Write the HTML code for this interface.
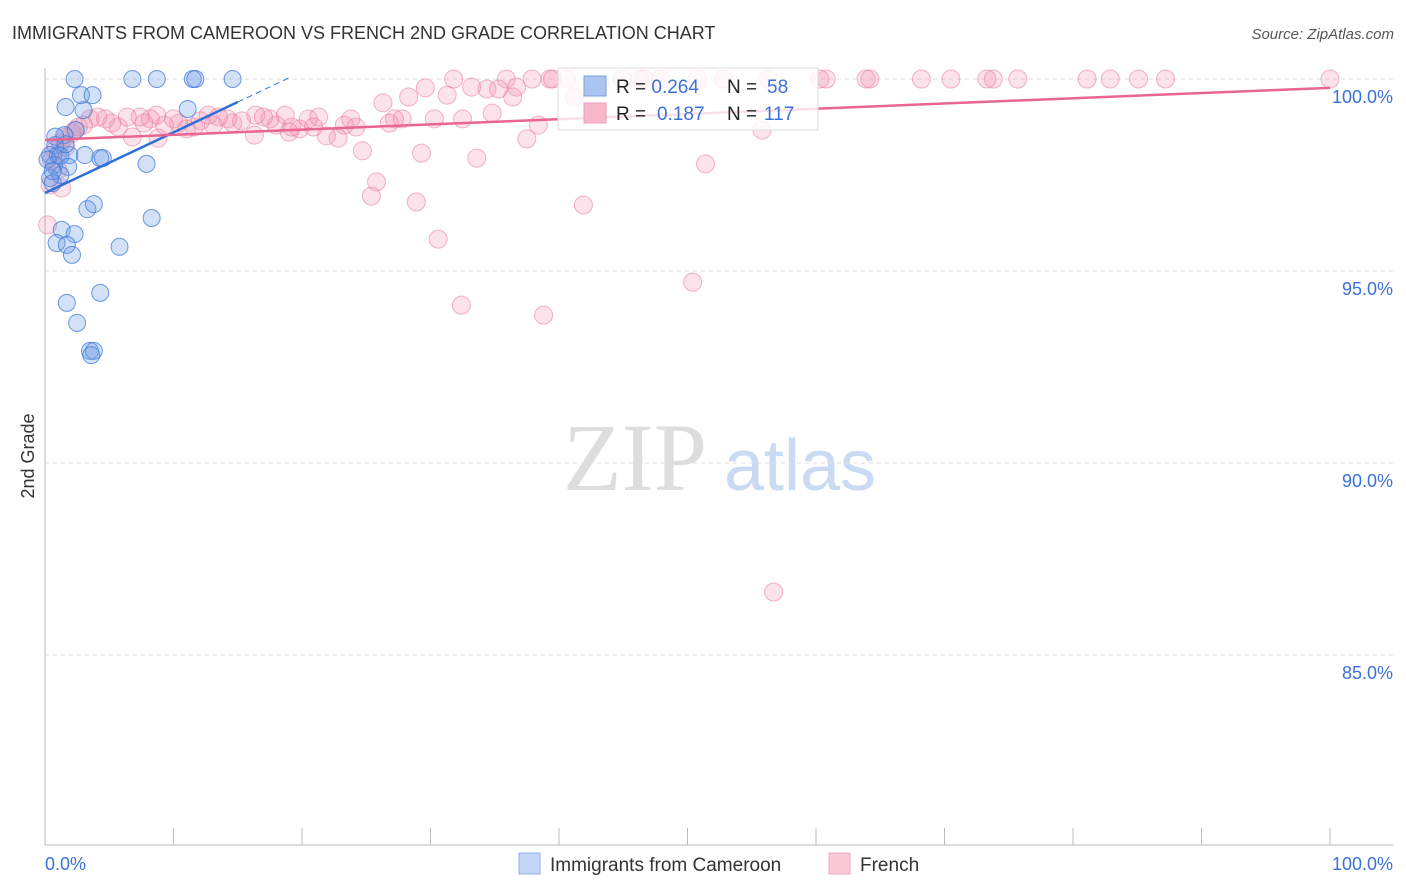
<!DOCTYPE html>
<html><head><meta charset="utf-8"><style>
body{margin:0;background:#fff;font-family:"Liberation Sans",sans-serif;}
svg{display:block}
</style></head><body>
<svg id="chart" width="1406" height="892">
<text x="12" y="39" font-size="18" fill="#333">IMMIGRANTS FROM CAMEROON VS FRENCH 2ND GRADE CORRELATION CHART</text>
<text x="1394" y="39" font-size="15" fill="#555" font-style="italic" text-anchor="end">Source: ZipAtlas.com</text>
<text x="34" y="456" font-size="18" fill="#333" text-anchor="middle" transform="rotate(-90 34 456)">2nd Grade</text>
<g><text x="635" y="490" font-size="96" fill="#ddd" font-family="Liberation Serif,serif" text-anchor="middle">ZIP</text><text x="800" y="490" font-size="72" fill="#c9daf2" text-anchor="middle">atlas</text></g>
<g id="grid"></g><g id="axes"></g><g id="pts"></g><g id="lines"></g>
<g>
<rect x="558" y="68" width="260" height="62" fill="#fff" fill-opacity="0.8" stroke="#ddd"/>
<rect x="584" y="76" width="22" height="20" fill="#aac4f0" stroke="#7aa0e0"/>
<rect x="584" y="103" width="22" height="20" fill="#f7b8cb" stroke="#eea0b8"/>
<text x="616" y="93" font-size="19" fill="#222">R = <tspan fill="#3a72d8">0.264</tspan><tspan x="727">N = </tspan><tspan x="767" fill="#3a72d8">58</tspan></text>
<text x="616" y="120" font-size="19" fill="#222">R = <tspan x="657" fill="#3a72d8">0.187</tspan><tspan x="727">N = </tspan><tspan x="764" fill="#3a72d8">117</tspan></text>
</g>
<g>
<rect x="519" y="853" width="21" height="21" fill="#c3d6f5" stroke="#8fb0e6"/>
<text x="550" y="871" font-size="19" fill="#333">Immigrants from Cameroon</text>
<rect x="829" y="853" width="21" height="21" fill="#f9cad8" stroke="#f0a8bf"/>
<text x="860" y="871" font-size="19" fill="#333">French</text>
</g>
</svg>
<script>
const yTicks=[100,95,90,85];
const yTickLabels=["100.0%","95.0%","90.0%","85.0%"];
const xTickLabels=["0.0%","100.0%"];
const blueX=[2.3,6.8,8.7,11.5,11.7,14.6,2.8,3.7,1.6,3.0,11.1,2.4,1.5,0.8,0.4,1.0,1.9,3.1,4.3,4.5,0.7,1.8,7.9,1.2,0.4,0.6,3.3,3.8,8.3,1.3,2.3,0.9,1.7,2.1,5.8,1.7,4.3,2.5,3.5,3.8,3.6,0.2,0.6,1.2,1.6,0.8];
const blueY=[100,100,100,100,100,100,99.58,99.58,99.27,99.19,99.22,98.67,98.54,98.28,98.02,98.02,98.02,98.02,97.94,97.94,97.76,97.71,97.79,97.5,97.42,97.29,96.61,96.74,96.38,96.07,95.96,95.73,95.68,95.42,95.63,94.17,94.43,93.65,92.92,92.92,92.81,97.9,97.6,98.0,98.3,98.5];
const pinkX=[31.8,35.9,37.9,39.3,39.5,40.6,44.9,46.3,46.6,47.9,50.8,52.8,56.3,60.3,60.8,63.9,64.2,68.2,70.5,73.3,73.8,75.7,81.1,82.9,85.1,87.2,100,
41.2,43.2,33.2,34.4,35.3,36.7,36.4,31.3,28.3,26.3,29.6,34.8,32.5,38.4,37.5,33.6,29.3,24.7,25.8,25.4,28.9,30.6,32.4,38.8,41.9,51.4,50.4,55.8,56.7,30.3,27.8,26.8,27.2,24.2,23.3,23.8,22.8,21.9,20.5,21.3,20.9,19.8,19.2,18.7,18.0,17.5,17.0,16.4,15.3,14.6,14.2,13.5,13.1,12.7,12.1,11.6,11.0,10.4,10.0,9.3,8.7,8.2,7.7,7.4,6.8,6.4,5.7,5.2,4.7,4.1,3.5,3.0,2.6,2.1,1.6,1.2,0.8,0.5,1.0,0.4,1.3,0.2,1.6,2.3,8.8,16.3,19.0];
const pinkY=[100,100,100,100,100,100,100,100,100,100,100,100,100,100,100,100,100,100,100,100,100,100,100,100,100,100,100,
99.53,99.84,99.79,99.74,99.74,99.79,99.53,99.58,99.53,99.38,99.77,99.11,98.96,98.80,98.44,97.94,98.07,98.13,97.32,96.95,96.80,95.83,94.11,93.85,96.72,97.79,94.71,98.67,86.64,98.96,98.96,98.85,98.96,98.75,98.80,98.96,98.46,98.52,98.96,99.01,98.75,98.70,98.75,99.06,98.80,98.96,99.01,99.06,98.91,98.85,98.96,99.01,98.80,99.06,98.91,98.75,98.70,98.85,98.96,98.80,99.06,98.96,98.85,99.01,98.49,99.01,98.75,98.85,98.96,99.01,98.96,98.80,98.75,98.59,98.49,98.33,98.15,97.89,97.63,97.24,97.16,96.2,98.23,98.67,98.46,98.54,98.62];
const trendIntercept=[97.03,98.41];
const trendSlope=[0.158,0.0136];
const X0=45,X1=1330,Y100=79,PXPER=38.4;
const sx=v=>X0+(X1-X0)*v/100;
const sy=v=>Y100+(100-v)*PXPER;
const NS="http://www.w3.org/2000/svg";
function mk(tag,attrs,parent){const e=document.createElementNS(NS,tag);for(const k in attrs)e.setAttribute(k,attrs[k]);parent.appendChild(e);return e;}
const grid=document.getElementById('grid'),axes=document.getElementById('axes'),pts=document.getElementById('pts'),lines=document.getElementById('lines');
yTicks.forEach((t,i)=>{
 const g=mk('line',{x1:45,x2:1393,y1:sy(t),y2:sy(t),stroke:'#ddd','stroke-dasharray':'4 4'},grid);
 
 
 const tx=mk('text',{x:1393,y:sy(t)+24,'font-size':18,fill:'#3a72d8','text-anchor':'end'},axes);
 tx.textContent=yTickLabels[i];
 
 
});
const ya=mk('line',{x1:45,x2:45,y1:68,y2:845,stroke:'#bbb'},axes);


const xa=mk('line',{x1:45,x2:1393,y1:845,y2:845,stroke:'#bbb'},axes);


for(let i=0;i<=10;i++){
 const t=mk('line',{x1:sx(i*10),x2:sx(i*10),y1:828,y2:845,stroke:'#bbb'},axes);
 
 
}
const xl0=mk('text',{x:45,y:870,'font-size':18,fill:'#3a72d8'},axes);xl0.textContent=xTickLabels[0];


const xl1=mk('text',{x:1393,y:870,'font-size':18,fill:'#3a72d8','text-anchor':'end'},axes);xl1.textContent=xTickLabels[1];


pinkX.forEach((x,i)=>{
 const c=mk('circle',{cx:sx(x),cy:sy(pinkY[i]),r:9,fill:'rgba(242,140,170,0.25)',stroke:'rgba(232,120,155,0.55)','stroke-width':1},pts);
 
 
});
blueX.forEach((x,i)=>{
 const c=mk('circle',{cx:sx(x),cy:sy(blueY[i]),r:8.5,fill:'rgba(110,155,230,0.3)',stroke:'rgba(60,120,220,0.75)','stroke-width':1},pts);
 
 
});
const bl=mk('line',{x1:sx(0),y1:sy(trendIntercept[0]),x2:sx(15),y2:sy(trendIntercept[0]+trendSlope[0]*15),stroke:'#2f6fd6','stroke-width':2.5},lines);


const bd=mk('line',{x1:sx(15),y1:sy(trendIntercept[0]+trendSlope[0]*15),x2:sx(19),y2:sy(trendIntercept[0]+trendSlope[0]*19),stroke:'#2f6fd6','stroke-width':1,'stroke-dasharray':'6 4'},lines);


const pl=mk('line',{x1:sx(0),y1:sy(trendIntercept[1]),x2:sx(100),y2:sy(trendIntercept[1]+trendSlope[1]*100),stroke:'#e8668f','stroke-width':2.5},lines);


</script>
</body></html>
